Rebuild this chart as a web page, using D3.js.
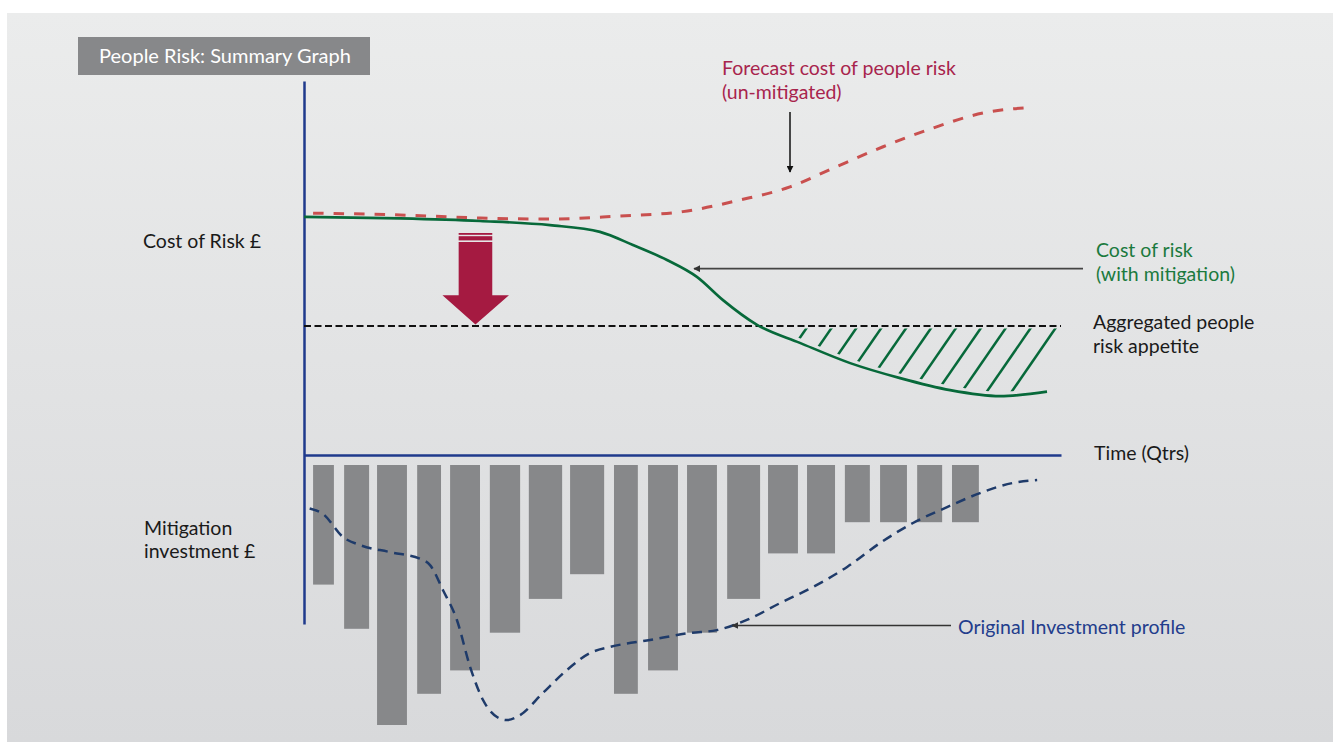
<!DOCTYPE html>
<html><head><meta charset="utf-8">
<script src="https://cdn.jsdelivr.net/npm/d3@7"></script>
<style>
body{margin:0;background:#fff;}
svg{display:block;}
text{font-family:Lato,"Open Sans",sans-serif;}
</style>
</head><body>
<svg id="chart" width="1333" height="742"></svg>
<script>
// ---------- data ----------
const titleText = "People Risk: Summary Graph";
// bars: mitigation investment per quarter (start/end in quarter units)
const barQuarterStart = [0.24,1.06,1.93,2.99,3.86,4.91,5.94,7.03,8.19,9.09,10.12,11.18,12.26,13.29,14.29,15.22,16.20,17.12];
const barQuarterEnd   = [0.79,1.72,2.72,3.62,4.65,5.71,6.82,7.93,8.82,9.88,10.91,12.05,13.05,14.03,14.95,15.93,16.86,17.83];
const mitigationInvestment = [46,63,100,88,79,64.5,51.5,42,88,79,64.5,51.5,34,34,22,22,22,22];
// forecast cost of people risk (un-mitigated)
const forecastQtr  = [0.24,2.54,4.65,6.5,8.27,10.01,11.52,12.84,13.98,15.3,16.62,17.94,19.26];
const forecastCost = [64.5,64.0,63.2,62.9,63.7,64.9,68,71.5,76.5,82.2,87.2,91.2,92.7];
// cost of risk (with mitigation)
const mitigatedQtr  = [0,2.54,4.65,6.5,7.82,8.69,9.59,10.38,11.07,11.97,13.1,14.43,15.75,17.07,18.39,19.63];
const mitigatedCost = [63.5,63.1,62.4,61.3,59.5,56,52,47.5,41.3,34.7,29.9,24.5,20.5,17.3,15.7,16.9];
// aggregated people risk appetite
const riskAppetite = 34.4;
// original investment profile
const originalQtr = [0.15,0.5,1.03,1.48,2.27,3.14,3.33,3.67,4.04,4.39,4.73,5.1,5.36,5.71,6.31,6.95,7.56,8.08,9.14,10.2,10.91,11.7,12.58,13.45,14.35,15.22,16.09,16.99,17.86,18.73,19.37];
const originalInvestment = [16.7,18.8,27.7,30.8,33.5,36.5,38.5,48.1,59.6,77.7,90.4,96.9,98.1,96.2,87.7,78.8,72.3,70,67.3,64.6,63.5,59.6,53.1,46.9,39.2,30,22.3,16.2,10.8,6.9,5.8];

// ---------- setup ----------
const svg = d3.select("#chart");
const W = 1333, H = 742;

const defs = svg.append("defs");
const grad = defs.append("linearGradient").attr("id","bg").attr("x1",0).attr("y1",0).attr("x2",0).attr("y2",1);
grad.append("stop").attr("offset","0%").attr("stop-color","#ebecec");
grad.append("stop").attr("offset","100%").attr("stop-color","#d8d9db");

function marker(id, color){
  defs.append("marker").attr("id",id).attr("viewBox","0 0 10 10")
    .attr("refX",9).attr("refY",5).attr("markerWidth",7).attr("markerHeight",7)
    .attr("markerUnits","userSpaceOnUse").attr("orient","auto")
    .append("path").attr("d","M0,0L10,5L0,10Z").attr("fill",color);
}
marker("arrBlack","#111");
marker("arrGrey","#333");

svg.append("rect").attr("x",7).attr("y",13).attr("width",W-7).attr("height",H-13).attr("fill","url(#bg)");

const x = d3.scaleLinear().domain([0,20]).range([304,1061]);
const yCost = d3.scaleLinear().domain([0,100]).range([455,80]);
const yInv = d3.scaleLinear().domain([0,100]).range([465,725]);

const navy = "#1f3a8c";
const green = "#07693a";

// ---------- title box ----------
svg.append("rect").attr("x",78).attr("y",37).attr("width",292).attr("height",38).attr("fill","#87888a");
svg.append("text").attr("x",225).attr("y",62.5).attr("text-anchor","middle")
  .attr("fill","#fff").attr("font-size",20).text(titleText);

// ---------- bars ----------
const bars = mitigationInvestment.map((v,i)=>({s:barQuarterStart[i], e:barQuarterEnd[i], v}));
svg.append("g").selectAll("rect").data(bars).join("rect")
  .attr("x",d=>x(d.s)).attr("width",d=>x(d.e)-x(d.s))
  .attr("y",yInv(0)).attr("height",d=>yInv(d.v)-yInv(0))
  .attr("fill","#87888a");

// ---------- axes ----------
const vScale = d3.scaleLinear().domain([0,1]).range([624,81]);
const yAxisG = svg.append("g").attr("transform",`translate(${x(0)},0)`)
  .call(d3.axisLeft(vScale).tickValues([]).tickSizeOuter(0));
yAxisG.select(".domain").attr("stroke",navy).attr("stroke-width",2.5);
const xAxisG = svg.append("g").attr("transform",`translate(0,${yCost(0)})`)
  .call(d3.axisBottom(x).tickValues([]).tickSizeOuter(0));
xAxisG.select(".domain").attr("stroke",navy).attr("stroke-width",2.5);

// ---------- risk appetite line ----------
svg.append("line").attr("x1",x(0)).attr("x2",x(20))
  .attr("y1",yCost(riskAppetite)).attr("y2",yCost(riskAppetite))
  .attr("stroke","#111").attr("stroke-width",2.2).attr("stroke-dasharray","7,3.5");

// ---------- forecast line ----------
const forecastData = forecastQtr.map((q,i)=>[q,forecastCost[i]]);
svg.append("path").datum(forecastData)
  .attr("d",d3.line().x(d=>x(d[0])).y(d=>yCost(d[1])).curve(d3.curveMonotoneX))
  .attr("fill","none").attr("stroke","#c9504f").attr("stroke-width",3).attr("stroke-dasharray","10.5,10");

// ---------- mitigated line ----------
const mitData = mitigatedQtr.map((q,i)=>[q,mitigatedCost[i]]);
const mitPath = svg.append("path").datum(mitData)
  .attr("d",d3.line().x(d=>x(d[0])).y(d=>yCost(d[1])).curve(d3.curveMonotoneX))
  .attr("fill","none").attr("stroke",green).attr("stroke-width",2.6);

// ---------- hatch (area between appetite and mitigated cost) ----------
(function(){
  const node = mitPath.node();
  const L = node.getTotalLength();
  const appY = yCost(riskAppetite);
  const pts = [];
  for(let l=0;l<=L;l+=2){ const p=node.getPointAtLength(l); if(p.y>appY) pts.push([p.x,p.y-4.5]); }
  const last = pts[pts.length-1];
  const poly = [[pts[0][0],appY+2.5],[x(20),appY+2.5],[x(20),last[1]]].concat(pts.slice().reverse());
  defs.append("clipPath").attr("id","hatchClip").append("path").attr("d","M"+poly.map(p=>p.join(",")).join("L")+"Z");
  const tops = d3.range(0,11).map(i=>808+i*24.9);
  const k = 40.7/59;
  svg.append("g").attr("clip-path","url(#hatchClip)").selectAll("line").data(tops).join("line")
    .attr("x1",d=>d+k*5).attr("y1",appY-5).attr("x2",d=>d-k*120).attr("y2",appY+120)
    .attr("stroke",green).attr("stroke-width",2.5);
})();

// ---------- red down arrow ----------
(function(){
  const cx = x(4.53), top = yCost(59.2), tip = yCost(riskAppetite)-1.5;
  const g = svg.append("g").attr("fill","#a51a41");
  g.append("rect").attr("x",cx-16.8).attr("y",top).attr("width",33.6).attr("height",1.8);
  g.append("rect").attr("x",cx-16.8).attr("y",top+3.2).attr("width",33.6).attr("height",4.2);
  g.append("path").attr("d",`M${cx-16.8},${top+9}H${cx+16.8}V${top+62.3}H${cx+33.5}L${cx},${tip}L${cx-33},${top+62.3}H${cx-16.8}Z`);
})();

// ---------- original investment profile ----------
const origData = originalQtr.map((q,i)=>[q,originalInvestment[i]]);
svg.append("path").datum(origData)
  .attr("d",d3.line().x(d=>x(d[0])).y(d=>yInv(d[1])).curve(d3.curveMonotoneX))
  .attr("fill","none").attr("stroke","#1f3b6a").attr("stroke-width",2.5).attr("stroke-dasharray","10,6.5");

// ---------- annotation arrows ----------
svg.append("line").attr("x1",790).attr("y1",112).attr("x2",790).attr("y2",172)
  .attr("stroke","#111").attr("stroke-width",1.5).attr("marker-end","url(#arrBlack)");
svg.append("line").attr("x1",1083).attr("y1",268.7).attr("x2",694).attr("y2",268.7)
  .attr("stroke","#444").attr("stroke-width",1.8).attr("marker-end","url(#arrGrey)");
svg.append("line").attr("x1",951).attr("y1",625.5).attr("x2",732).attr("y2",625.5)
  .attr("stroke","#333").attr("stroke-width",1.5).attr("marker-end","url(#arrGrey)");

// ---------- labels ----------
const labels = [
  {t:"Forecast cost of people risk", x:722, y:75, c:"#a8244d"},
  {t:"(un-mitigated)", x:722, y:99, c:"#a8244d"},
  {t:"Cost of Risk £", x:143, y:248, c:"#1a1a1a"},
  {t:"Cost of risk", x:1096, y:257, c:"#1b7a3e"},
  {t:"(with mitigation)", x:1096, y:281, c:"#1b7a3e"},
  {t:"Aggregated people", x:1093, y:329, c:"#1a1a1a"},
  {t:"risk appetite", x:1093, y:353, c:"#1a1a1a"},
  {t:"Time (Qtrs)", x:1094, y:460, c:"#1a1a1a"},
  {t:"Mitigation", x:144, y:535, c:"#1a1a1a"},
  {t:"investment £", x:144, y:558, c:"#1a1a1a"},
  {t:"Original Investment profile", x:958, y:634, c:"#233d8c"}
];
svg.append("g").selectAll("text").data(labels).join("text")
  .attr("x",d=>d.x).attr("y",d=>d.y).attr("fill",d=>d.c).attr("font-size",19.5).text(d=>d.t);
</script>
</body></html>
